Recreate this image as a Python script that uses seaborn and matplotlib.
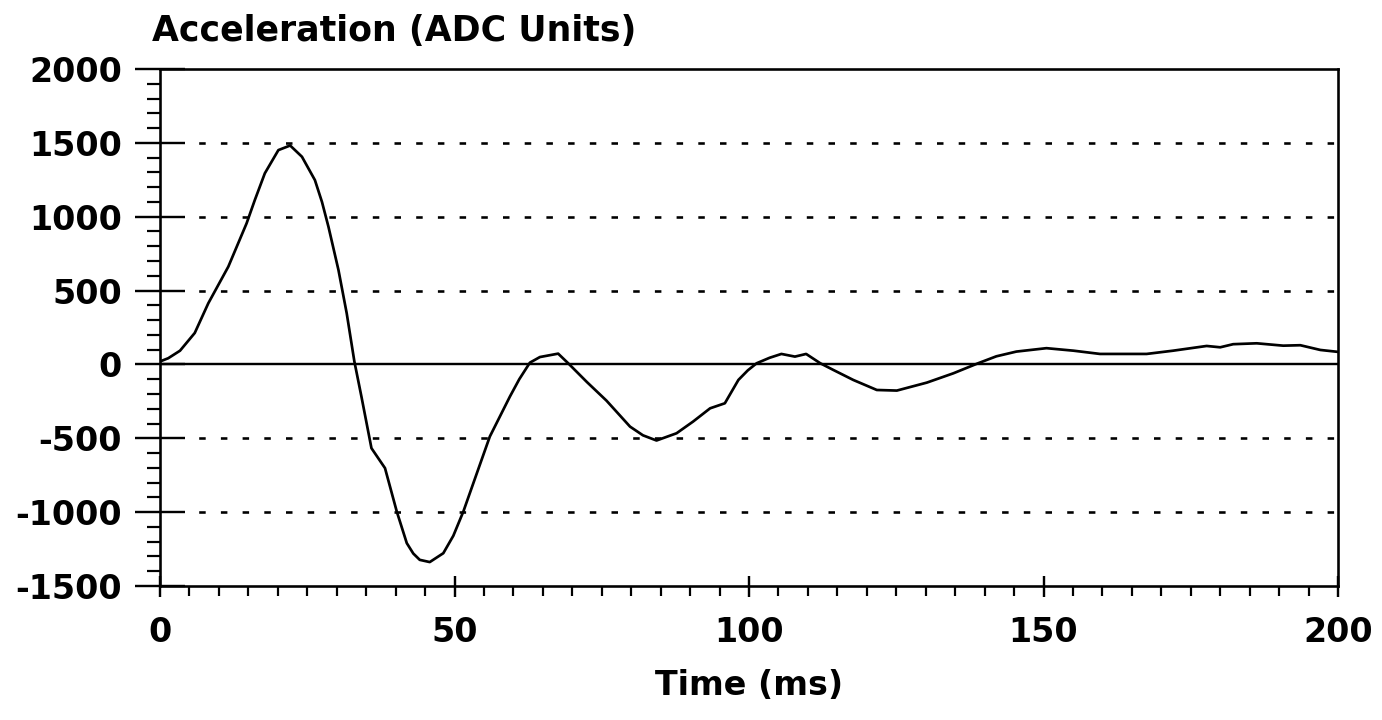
import matplotlib
matplotlib.use("Agg")
import matplotlib.pyplot as plt
from matplotlib.ticker import MultipleLocator, FuncFormatter
import seaborn as sns
import pandas as pd

# Accelerometer trace
time_ms = [0, 1.4, 3.4, 5.9, 8.2, 11.6, 14.7, 16.1, 17.8, 20.1, 22.1, 24.1, 26.3,
           27.5, 28.6, 30.3, 31.7, 33.0, 34.2, 35.9, 38.2, 40.2, 41.9, 43.0, 44.1,
           45.8, 48.1, 49.8, 51.5, 53.8, 56.0, 57.7, 59.4, 61.0, 62.8, 64.5, 67.6,
           69.3, 72.5, 75.8, 79.8, 82.0, 84.3, 87.7, 90.5, 93.4, 95.9, 98.2, 99.8,
           101.3, 103.5, 105.5, 107.8, 109.7, 112.1, 114.3, 117.7, 121.7, 125.1,
           130.2, 134.7, 138.9, 142.0, 145.4, 150.5, 155.1, 159.6, 167.5, 172.0,
           177.7, 180.0, 182.2, 186.2, 190.7, 193.6, 197.0, 200.0]
accel_adc = [20, 42, 93, 213, 414, 662, 955, 1113, 1294, 1451, 1482, 1406, 1248,
             1100, 932, 639, 346, 20, -218, -567, -702, -996, -1210, -1280, -1323,
             -1338, -1278, -1160, -996, -736, -488, -353, -218, -100, 12, 50, 73,
             8, -120, -245, -421, -480, -515, -466, -387, -297, -263, -105, -40,
             8, 45, 71, 53, 71, 8, -37, -105, -173, -177,
             -123, -60, 8, 55, 87, 110, 93, 71, 71, 93,
             125, 116, 137, 143, 127, 130, 98, 85]

y_ticks = [-1500, -1000, -500, 0, 500, 1000, 1500, 2000]
x_ticks = [0, 50, 100, 150, 200]
grid_levels = [1500, 1000, 500, -500, -1000]

sns.set_style("white")
plt.rcParams["font.family"] = ["DejaVu Sans"]
plt.rcParams["axes.unicode_minus"] = False
plt.rcParams["lines.scale_dashes"] = False
plt.rcParams["text.color"] = "black"
plt.rcParams["axes.labelcolor"] = "black"
plt.rcParams["xtick.color"] = "black"
plt.rcParams["ytick.color"] = "black"

PX = 72 / 100  # points per pixel at dpi 100
FS = 24

fig = plt.figure(figsize=(13.82, 7.2), dpi=100)
ax = fig.add_axes([160 / 1382, 1 - 586 / 720, 1178 / 1382, 517 / 720])

df = pd.DataFrame({"Time (ms)": time_ms, "Acceleration": accel_adc})
sns.lineplot(data=df, x="Time (ms)", y="Acceleration", ax=ax,
             color="black", linewidth=2.7 * PX, estimator=None, sort=False)

ax.set_xlim(x_ticks[0], x_ticks[-1])
ax.set_ylim(y_ticks[0], y_ticks[-1])
ax.set_xticks(x_ticks)
ax.set_yticks(y_ticks)
ax.xaxis.set_minor_locator(MultipleLocator(5))
ax.yaxis.set_minor_locator(MultipleLocator(100))
ax.yaxis.set_major_formatter(FuncFormatter(lambda v, p: f"{int(v)}"))

# dotted reference levels and solid zero line
for lvl in grid_levels:
    ax.axhline(lvl, xmin=25 / 1178, xmax=1, color="black",
               linewidth=2.6 * PX, linestyle=(8 * PX, (6.5 * PX, 15.2 * PX)))
ax.axhline(0, color="black", linewidth=2.4 * PX)

for s in ax.spines.values():
    s.set_visible(True)
    s.set_color("black")
    s.set_linewidth(2.6 * PX)

ax.tick_params(which="both", bottom=True, left=True, top=False, right=False)
ax.tick_params(axis="y", which="major", direction="inout", length=50 * PX,
               width=2.4 * PX, pad=13 * PX, labelsize=FS, color="black",
               labelcolor="black")
ax.tick_params(axis="y", which="minor", direction="out", length=13 * PX,
               width=2.2 * PX, color="black")
ax.tick_params(axis="x", which="major", direction="inout", length=21 * PX,
               width=2.4 * PX, pad=20 * PX, labelsize=FS, color="black",
               labelcolor="black")
ax.tick_params(axis="x", which="minor", direction="out", length=10 * PX,
               width=2.2 * PX, color="black")
for lab in ax.get_xticklabels() + ax.get_yticklabels():
    lab.set_fontweight("bold")

ax.set_xlabel("Time (ms)", fontsize=FS, fontweight="bold", color="black")
ax.xaxis.set_label_coords(0.5, -0.193)
ax.xaxis.label.set_va("center")
ax.set_ylabel("")

fig.text(152 / 1382, 1 - 31 / 720, "Acceleration (ADC Units)", fontsize=25,
         fontweight="bold", ha="left", va="center", color="black")

fig.savefig("out.png", dpi=100, facecolor="white")
